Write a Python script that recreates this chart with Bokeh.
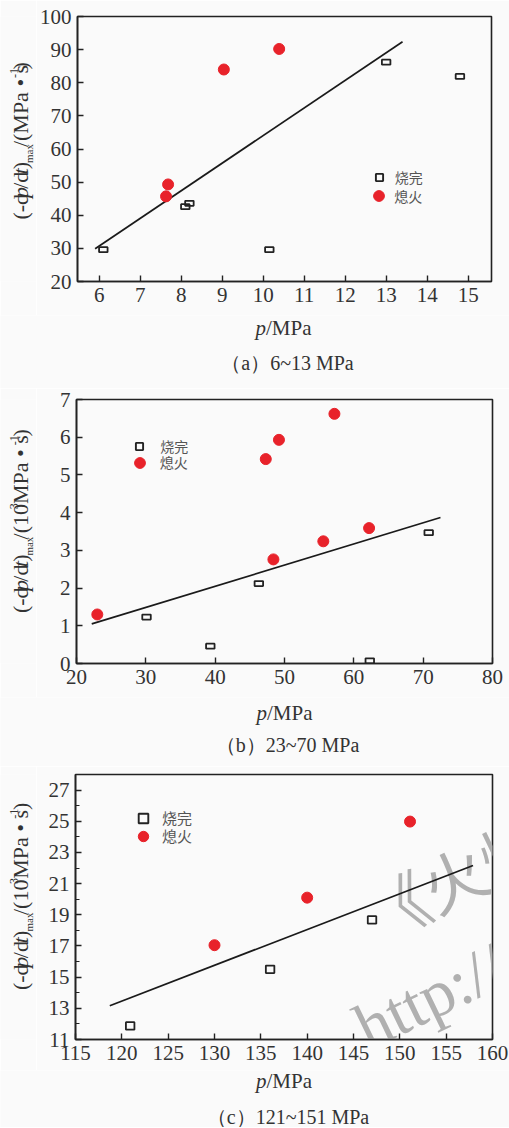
import math
from bokeh.plotting import figure
from bokeh.models import Range1d, FixedTicker, Label, Legend, LegendItem
from bokeh.layouts import column, row
from bokeh.embed import file_html
from bokeh.resources import INLINE

# ---------------- data ----------------
# Panel (a) 6~13 MPa
a_burn_p = [6.1, 8.1, 8.2, 10.15, 13.0, 14.8]
a_burn_r = [29.6, 42.6, 43.6, 29.6, 86.2, 81.9]
a_ext_p = [7.63, 7.68, 9.04, 10.39]
a_ext_r = [45.7, 49.3, 84.0, 90.2]
a_fit_p = [5.9, 13.4]
a_fit_r = [29.9, 92.4]
a_xticks = [6, 7, 8, 9, 10, 11, 12, 13, 14, 15]
a_yticks = [20, 30, 40, 50, 60, 70, 80, 90, 100]

# Panel (b) 23~70 MPa
b_burn_p = [30.1, 39.3, 46.3, 62.3, 70.8]
b_burn_r = [1.23, 0.46, 2.12, 0.07, 3.47]
b_ext_p = [23.0, 47.3, 48.4, 49.2, 55.6, 57.2, 62.2]
b_ext_r = [1.30, 5.42, 2.76, 5.93, 3.24, 6.62, 3.59]
b_fit_p = [22.2, 72.5]
b_fit_r = [1.05, 3.87]
b_xticks = [20, 30, 40, 50, 60, 70, 80]
b_yticks = [0, 1, 2, 3, 4, 5, 6, 7]

# Panel (c) 121~151 MPa
c_burn_p = [120.9, 136.0, 147.0]
c_burn_r = [11.87, 15.5, 18.67]
c_ext_p = [130.0, 140.0, 151.1]
c_ext_r = [17.05, 20.1, 24.98]
c_fit_p = [118.7, 157.9]
c_fit_r = [13.17, 22.16]
c_xticks = [115, 120, 125, 130, 135, 140, 145, 150, 155, 160]
c_yticks = [11, 13, 15, 17, 19, 21, 23, 25, 27]
c_yminor = [12, 14, 16, 18, 20, 22, 24, 26, 28]

series_names = ["烧完", "熄火"]
captions = ["（a）6~13 MPa", "（b）23~70 MPa", "（c）121~151 MPa"]
ylabel_a = [("(-d", "n", 1, 0), ("p", "i", 1, 0), ("/d", "n", 1, 0), ("t", "i", 1, 0), (")", "n", 1, 0),
            ("max", "n", 0.5, -0.22), ("/(MPa • s", "n", 1, 0), ("-1", "n", 0.55, 0.42), (")", "n", 1, 0)]
ylabel_bc = [("(-d", "n", 1, 0), ("p", "i", 1, 0), ("/d", "n", 1, 0), ("t", "i", 1, 0), (")", "n", 1, 0),
             ("max", "n", 0.5, -0.22), ("/(10", "n", 1, 0), ("3", "n", 0.55, 0.42),
             ("MPa • s", "n", 1, 0), ("-1", "n", 0.55, 0.42), (")", "n", 1, 0)]
xlabel_frags = [("p", "i", 1, 0), ("/MPa", "n", 1, 0)]
watermark = ["《火炸药学报》", "http://www.hzyxb.cn"]

# ---------------- style ----------------
BG = "#fafafa"
INK = "#222222"
TXT = "#333333"
RED = "#e8222a"
SERIF = "Liberation Serif"
CJK = "Noto Sans CJK SC"
PAGE_W = 509
YL_W = 36
MID = 0.34  # baseline -> middle of text box, in em

W = {'(': 333, ')': 333, '-': 333, 'd': 500, '/': 278, 'm': 778, 'a': 444, 'x': 500,
     'M': 889, 'P': 556, ' ': 250, '•': 350, 's': 389, '1': 500, '0': 500, '3': 500,
     'p': 500, 't': 278}


def tw(s, fs):
    return sum(W.get(c, 500) for c in s) / 1000.0 * fs


def rich(p, frags, fs, anchor, vertical, center):
    """anchor = baseline position (x for vertical, y for horizontal)."""
    total = sum(tw(t, fs * sc) for t, _, sc, _ in frags)
    pos = center - total / 2.0
    for t, st, sc, sh in frags:
        f = fs * sc
        if vertical:
            x, y, ang = anchor - sh * fs - MID * f, pos, math.pi / 2
        else:
            x, y, ang = pos, anchor + sh * fs + MID * f, 0
        p.add_layout(Label(x=x, y=y, angle=ang, text=t,
                           text_font=SERIF, text_font_size=f"{f:.1f}px",
                           text_font_style="italic" if st == "i" else "normal",
                           text_color=TXT, text_align="left", text_baseline="middle"))
        pos += tw(t, f)


def text_fig(w, h):
    f = figure(width=w, height=h, x_range=Range1d(0, w), y_range=Range1d(0, h),
               output_backend="svg", toolbar_location=None, min_border=0,
               x_axis_location=None, y_axis_location=None)
    f.grid.visible = False
    f.outline_line_color = None
    f.background_fill_color = BG
    f.border_fill_color = BG
    return f


def make_fig(height, top, bottom, left, right, xr, yr, xt, yt, yminor=None):
    p = figure(width=PAGE_W - YL_W, height=height, x_range=Range1d(*xr), y_range=Range1d(*yr),
               output_backend="svg", toolbar_location=None,
               min_border_left=left, min_border_right=right,
               min_border_top=top, min_border_bottom=bottom)
    p.grid.visible = False
    p.background_fill_color = BG
    p.border_fill_color = BG
    p.outline_line_color = INK
    p.outline_line_width = 1.6
    p.outline_line_alpha = 1
    p.xaxis.ticker = FixedTicker(ticks=xt)
    p.yaxis.ticker = FixedTicker(ticks=yt, minor_ticks=yminor or [])
    for ax in (p.xaxis[0], p.yaxis[0]):
        ax.major_tick_in = 6
        ax.major_tick_out = 0
        ax.minor_tick_in = 0
        ax.minor_tick_out = 0
        ax.axis_line_color = INK
        ax.axis_line_width = 1.6
        ax.major_tick_line_color = INK
        ax.major_tick_line_width = 1.4
        ax.minor_tick_line_color = INK
        ax.minor_tick_line_width = 1.2
        ax.major_label_text_font = SERIF
        ax.major_label_text_font_size = "21px"
        ax.major_label_text_color = TXT
        ax.major_label_standoff = 6
    if yminor:
        p.yaxis[0].minor_tick_in = 4
    return p


def legend_item(p, label, renderer, cx, cy, g, text_x, fs):
    lg = Legend(items=[LegendItem(label=label, renderers=[renderer])],
                location=(cx - g / 2.0, cy - g / 2.0), glyph_width=g, glyph_height=g,
                label_height=g, label_width=10,
                label_standoff=int(round(text_x - (cx + g / 2.0))), padding=0, margin=0, spacing=0,
                border_line_color=None, background_fill_alpha=0,
                label_text_font=CJK, label_text_font_size=f"{fs}px", label_text_color="#555555")
    p.add_layout(lg)


def panel(p, bp, br, ep, er, fp, fr, sq_w, sq_h, leg):
    p.line(fp, fr, line_color="#1a1a1a", line_width=1.7)
    p.rect(bp, br, width=sq_w, height=sq_h, width_units="screen", height_units="screen",
           fill_color=None, line_color=INK, line_width=1.8)
    rc = p.scatter(ep, er, marker="circle", size=11, fill_color=RED, line_color=RED)
    rs = p.scatter(bp, br, marker="square", size=7, fill_color=None, line_color=INK,
                   line_width=1.9, visible=False)
    (sx, sy, sg), (cx, cy, cg), tx, lfs = leg
    legend_item(p, series_names[0], rs, sx, sy, sg, tx, lfs)
    legend_item(p, series_names[1], rc, cx, cy, cg, tx, lfs)


def side(h, ylab, yc):
    f = text_fig(YL_W, h)
    rich(f, ylab, 22, 27, True, yc)
    return f


def bottom(h, xl_cx, xl_y, cap, cap_cx, cap_y):
    f = text_fig(PAGE_W, h)
    rich(f, xlabel_frags, 21, xl_y, False, xl_cx)
    f.add_layout(Label(x=cap_cx, y=cap_y + MID * 20, text=cap, text_font=SERIF,
                       text_font_size="20px", text_color=TXT, text_align="center",
                       text_baseline="middle"))
    return f


# Panel a: page 0..388, frame x 75..491, y 16..281
pa = make_fig(315, 16, 34, 39, 18, (5.47, 15.57), (20, 100), a_xticks, a_yticks)
panel(pa, a_burn_p, a_burn_r, a_ext_p, a_ext_r, a_fit_p, a_fit_r, 8.5, 5,
      ((301.7, 103.3, 18), (301.7, 85.3, 27), 317.7, 14))
ya = side(315, ylabel_a, 166.5)
ca = bottom(73, 283, 53, captions[0], 287, 19)

# Panel b: page 388..766, frame x 76..492, y 399..663
pb = make_fig(309, 11, 34, 40, 17, (20, 80), (0, 7), b_xticks, b_yticks)
panel(pb, b_burn_p, b_burn_r, b_ext_p, b_ext_r, b_fit_p, b_fit_r, 8.5, 5,
      ((63.3, 215.6, 18), (63.3, 200.6, 27), 84, 14))
yb = side(309, ylabel_bc, 166)
cb = bottom(69, 284, 46, captions[1], 287, 14.3)

# Panel c: page 766..1127, frame x 75..492, y 774..1039
pc = make_fig(304, 8, 31, 39, 17, (115, 160), (11, 28), c_xticks, c_yticks, c_yminor)
panel(pc, c_burn_p, c_burn_r, c_ext_p, c_ext_r, c_fit_p, c_fit_r, 8.5, 7.5,
      ((68, 221.4, 24), (68, 203.4, 26), 87, 15))
yc = side(304, ylabel_bc, 163.6)
cc = bottom(57, 283.5, 39, captions[2], 287.5, 4)

# watermark over panel c
pc.add_layout(Label(x=311, y=80, x_units="screen", y_units="screen", angle=0.45,
                    text=watermark[0], text_font=CJK, text_font_size="64px",
                    text_color="#b0b0b0", level="underlay"))
pc.add_layout(Label(x=299, y=-24, x_units="screen", y_units="screen", angle=0.45,
                    text=watermark[1], text_font=SERIF, text_font_size="66px",
                    text_color="#b0b0b0", level="underlay"))

layout = column(row(ya, pa, spacing=0), ca, row(yb, pb, spacing=0), cb,
                row(yc, pc, spacing=0), cc, spacing=0)
open("out.html", "w").write(file_html(layout, INLINE))
